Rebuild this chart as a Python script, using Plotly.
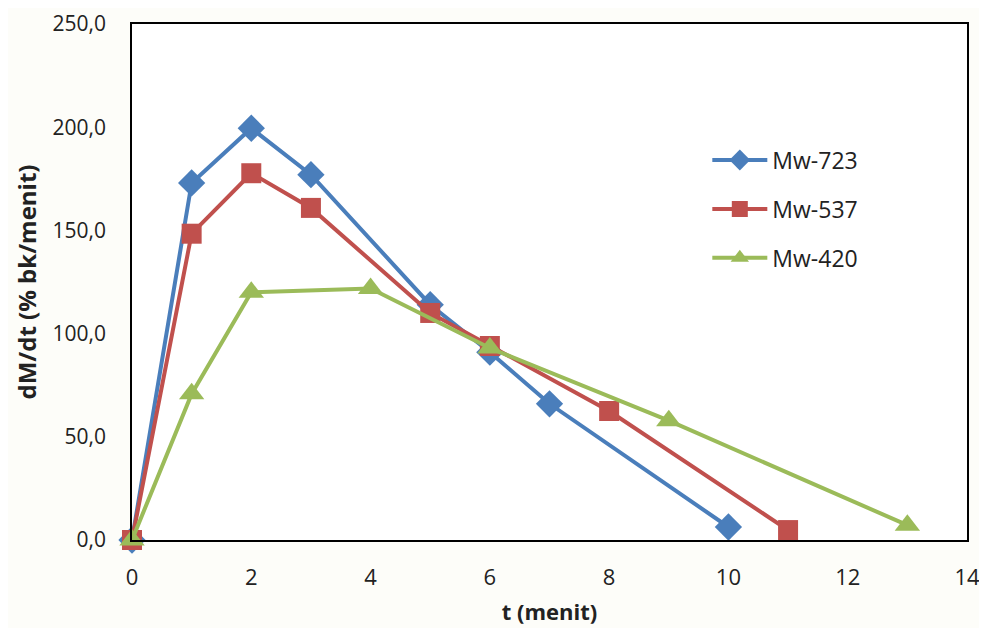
import plotly.graph_objects as go

t_723 = [0, 1, 2, 3, 5, 6, 7, 10]
v_723 = [0.0, 173.0, 199.5, 177.0, 114.0, 91.0, 66.0, 6.3]

t_537 = [0, 1, 2, 3, 5, 6, 8, 11]
v_537 = [0.0, 148.4, 177.7, 160.9, 110.0, 94.0, 62.5, 4.8]

t_420 = [0, 1, 2, 4, 6, 9, 13]
v_420 = [0.0, 70.8, 120.0, 121.9, 93.0, 57.8, 7.2]

names = ["Mw-723", "Mw-537", "Mw-420"]
colors = ["#4A7EBB", "#C0504D", "#9BBB59"]
symbols = ["diamond", "square", "triangle-up"]
sizes = [21, 20, 22]

x_ticks = [0, 2, 4, 6, 8, 10, 12, 14]
y_ticks = [0, 50, 100, 150, 200, 250]

FONT = "Open Sans"

fig = go.Figure()
for i, (tx, vy) in enumerate([(t_723, v_723), (t_537, v_537), (t_420, v_420)]):
    fig.add_trace(go.Scatter(
        x=tx, y=vy, mode="lines+markers", name=names[i],
        legendgroup=names[i],
        line=dict(color=colors[i], width=4),
        marker=dict(symbol=symbols[i], size=sizes[i], color=colors[i]),
        cliponaxis=False,
    ))

fig.update_layout(
    width=975, height=620,
    margin=dict(l=124, r=16, t=16, b=88),
    paper_bgcolor="#FDFDF9",
    plot_bgcolor="#FFFFFF",
    font=dict(family=FONT, size=20, color="#222222"),
    separators=",.",
    legend=dict(
        x=0.689, y=0.778, xanchor="left", yanchor="top",
        bgcolor="rgba(0,0,0,0)",
        font=dict(family=FONT, size=23, color="#222222"),
        tracegroupgap=16,
        traceorder="grouped",
        itemwidth=55,
    ),
    xaxis=dict(
        range=[0, 14], tickvals=x_ticks, ticktext=[str(v) for v in x_ticks],
        showgrid=False, zeroline=False, automargin=False,
        ticklabeloverflow="allow",
        showline=True, linecolor="black", linewidth=1.5, mirror=True,
        ticks="", ticklabelstandoff=17,
        title=dict(text="<b>t (menit)</b>", font=dict(family=FONT, size=22), standoff=14),
        tickfont=dict(family=FONT, size=22),
    ),
    yaxis=dict(
        range=[0, 250], tickvals=y_ticks, tickformat=".1f",
        showgrid=False, zeroline=False, automargin=False,
        ticklabeloverflow="allow",
        showline=True, linecolor="black", linewidth=1.5, mirror=True,
        ticks="", ticklabelstandoff=20,
        title=dict(text="<b>dM/dt (% bk/menit)</b>", font=dict(family=FONT, size=24), standoff=9),
        tickfont=dict(family=FONT, size=21),
    ),
)

fig.write_html("out.html")
